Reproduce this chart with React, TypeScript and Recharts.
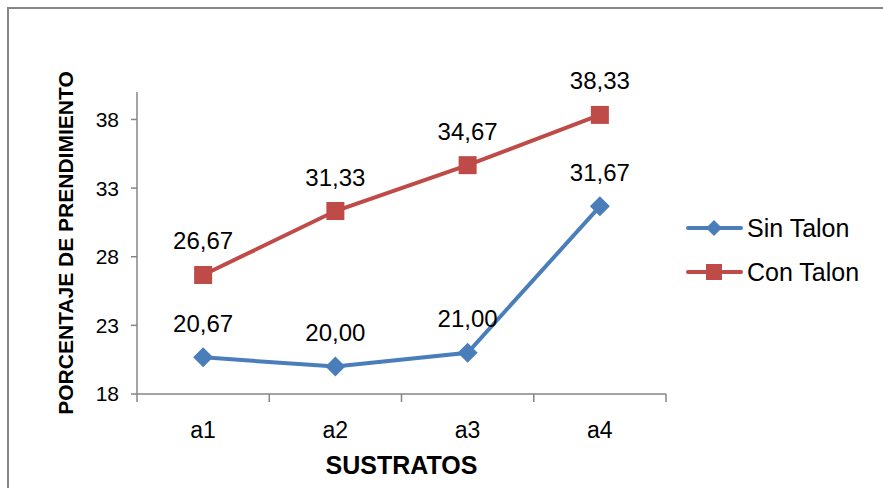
import React from 'react';
import { LineChart, Line, XAxis, YAxis, LabelList, Label } from 'recharts';

const categories = ['a1', 'a2', 'a3', 'a4'];
const sinTalon = [20.67, 20.0, 21.0, 31.67];
const conTalon = [26.67, 31.33, 34.67, 38.33];
const yTicks = [18, 23, 28, 33, 38];

const BLUE = '#4A7EBB';
const RED = '#BE4B48';
const AXIS = '#868686';
const FONT = '"Liberation Sans", Arial, sans-serif';

const data = categories.map((cat, i) => ({ cat, sin: sinTalon[i], con: conTalon[i] }));

const fmt = (v: number) => v.toFixed(2).replace('.', ',');

const DiamondDot = (props: any) => {
  const { cx, cy, index } = props;
  const r = 10;
  return (
    <path
      key={`d-${index}`}
      d={`M${cx},${cy - r}L${cx + r},${cy}L${cx},${cy + r}L${cx - r},${cy}Z`}
      fill={BLUE}
      stroke="none"
    />
  );
};

const SquareDot = (props: any) => {
  const { cx, cy, index } = props;
  const s = 18;
  return <rect key={`s-${index}`} x={cx - s / 2} y={cy - s / 2} width={s} height={s} fill={RED} stroke="none" />;
};

const renderValue = (props: any) => {
  const { x, y, value } = props;
  return (
    <text x={x} y={y - 34} textAnchor="middle" dominantBaseline="central" fontSize={24} fontFamily={FONT} fill="#000">
      {fmt(Number(value))}
    </text>
  );
};

// Category label at the band centre, tick marks on the band boundaries.
const CategoryTick = (props: any) => {
  const { x, y, payload } = props;
  const half = Number(payload?.offset ?? 0);
  const isLast = payload?.index === categories.length - 1;
  return (
    <g>
      <line x1={x - half} y1={y} x2={x - half} y2={y + 8} stroke={AXIS} strokeWidth={1.5} />
      {isLast && <line x1={x + half} y1={y} x2={x + half} y2={y + 8} stroke={AXIS} strokeWidth={1.5} />}
      <text x={x} y={y + 36} textAnchor="middle" dominantBaseline="central" fontSize={23} fontFamily={FONT} fill="#000">
        {payload.value}
      </text>
    </g>
  );
};

const legendItems = [
  { name: 'Sin Talon', color: BLUE, shape: 'diamond' },
  { name: 'Con Talon', color: RED, shape: 'square' },
];

const LegendBox = () => (
  <div style={{ position: 'absolute', left: 686, top: 206, fontFamily: FONT, fontSize: 25, color: '#000' }}>
    {legendItems.map((it) => (
      <div key={it.name} style={{ display: 'flex', alignItems: 'center', height: 44 }}>
        <svg width={58} height={24} style={{ display: 'block' }}>
          <line x1={2} y1={12} x2={55} y2={12} stroke={it.color} strokeWidth={4} strokeLinecap="round" />
          {it.shape === 'diamond' ? (
            <path d="M28,4L36,12L28,20L20,12Z" fill={it.color} />
          ) : (
            <rect x={20} y={4} width={16} height={16} fill={it.color} />
          )}
        </svg>
        <span style={{ marginLeft: 3, lineHeight: 1 }}>{it.name}</span>
      </div>
    ))}
  </div>
);

const YTitle = (props: any) => {
  const { viewBox } = props;
  const cy = viewBox.y + viewBox.height / 2;
  const cx = 65;
  return (
    <text
      x={cx}
      y={cy}
      transform={`rotate(-90, ${cx}, ${cy})`}
      textAnchor="middle"
      dominantBaseline="central"
      fontSize={21}
      fontWeight="bold"
      fontFamily={FONT}
      fill="#000"
    >
      PORCENTAJE DE PRENDIMIENTO
    </text>
  );
};

export default function App() {
  return (
    <div style={{ position: 'absolute', left: 0, top: 0, width: 883, height: 488, overflow: 'hidden', background: '#fff' }}>
      <div
        style={{
          position: 'absolute',
          left: 7,
          top: 7,
          width: 1000,
          height: 1000,
          border: `2px solid ${AXIS}`,
        }}
      />
      <LineChart
        width={883}
        height={488}
        data={data}
        margin={{ top: 92, right: 217, bottom: 0, left: 0 }}
        style={{ position: 'absolute', left: 0, top: 0 }}
      >
        <XAxis
          dataKey="cat"
          scale="band"
          height={94}
          stroke={AXIS}
          strokeWidth={1.5}
          tickLine={false}
          tickSize={0}
          tickMargin={0}
          tick={<CategoryTick />}
        >
          <Label
            value="SUSTRATOS"
            position="insideBottom"
            offset={14}
            style={{ fontSize: 25, fontWeight: 'bold', fontFamily: FONT, fill: '#000' }}
          />
        </XAxis>
        <YAxis
          width={137}
          domain={[18, 40]}
          ticks={yTicks}
          allowDataOverflow
          stroke={AXIS}
          strokeWidth={1.5}
          tickSize={6}
          tickMargin={12}
          tick={{ fontSize: 21, fontFamily: FONT, fill: '#000' }}
        >
          <Label content={YTitle} />
        </YAxis>
        <Line dataKey="sin" name="Sin Talon" stroke={BLUE} strokeWidth={4} dot={DiamondDot} isAnimationActive={false}>
          <LabelList dataKey="sin" content={renderValue} />
        </Line>
        <Line dataKey="con" name="Con Talon" stroke={RED} strokeWidth={4} dot={SquareDot} isAnimationActive={false}>
          <LabelList dataKey="con" content={renderValue} />
        </Line>
      </LineChart>
      <LegendBox />
    </div>
  );
}
